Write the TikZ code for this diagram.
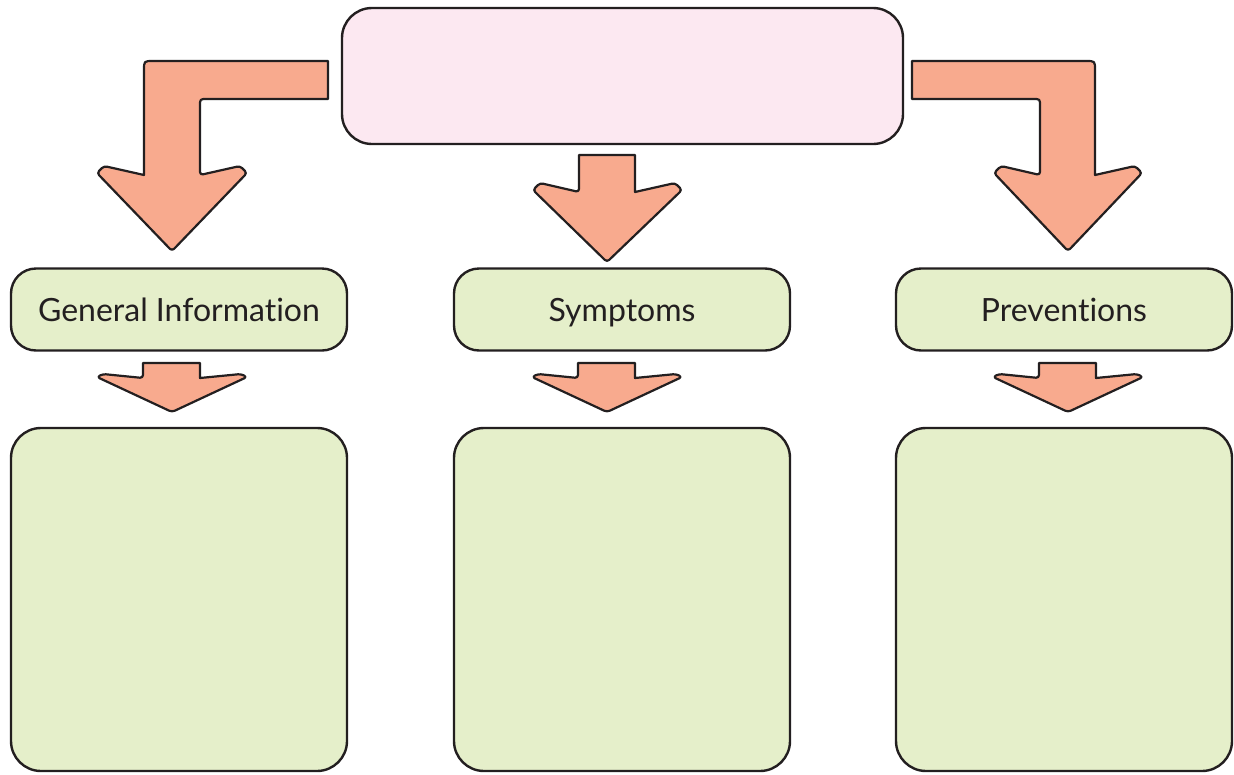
\documentclass[tikz,border=0pt]{standalone}
\usepackage{fontspec}
\setmainfont{Lato}[Ligatures=NoCommon]
\definecolor{pinkfill}{HTML}{FCE8F1}
\definecolor{greenfill}{HTML}{E5EFCA}
\definecolor{arrowfill}{HTML}{F8AA8E}
\definecolor{inkc}{HTML}{231F20}
\tikzset{
  box/.style={draw=inkc, line width=2.4pt, inner sep=0pt, rounded corners=#1},
  labelbox/.style={box=25pt, fill=greenfill, minimum width=336pt, minimum height=82pt,
     font=\fontsize{32}{36}\selectfont, text=inkc, text height=23pt, text depth=0pt},
  bigbox/.style={box=30pt, fill=greenfill, minimum width=336pt, minimum height=343pt},
  topbox/.style={box=30pt, fill=pinkfill, minimum width=561pt, minimum height=136pt},
  blockarrow/.style={draw=inkc, fill=arrowfill, line width=2.2pt, line join=round}
}
\begin{document}
\begin{tikzpicture}[x=1pt,y=-1pt]
\useasboundingbox (0,0) rectangle (1234,774);
% boxes
\node[topbox] (top) at (622.5,76) {};
\node[labelbox] (gen) at (179,309.5) {General Information};
\node[labelbox] (sym) at (622,309.5) {Symptoms};
\node[labelbox] (pre) at (1064,309.5) {Preventions};
\node[bigbox] (b1) at (179,599.5) {};
\node[bigbox] (b2) at (622,599.5) {};
\node[bigbox] (b3) at (1064,599.5) {};
% left bent arrow
\draw[blockarrow] (328,61) -- (153,61) .. controls (144,61) .. (144,70) -- (144,175)
  [rounded corners=3pt] -- (104,166) -- (97,173) -- (172,251) -- (247,173) -- (240,166) -- (200,175) [sharp corners]
  -- (200,106) .. controls (200,99) .. (207,99) -- (328,99) -- cycle;
% right bent arrow
\draw[blockarrow] (912,61) -- (1086,61) .. controls (1095,61) .. (1095,70) -- (1095,175)
  [rounded corners=3pt] -- (1135,166) -- (1142,173) -- (1068,251) -- (994,173) -- (1001,166) -- (1040,175) [sharp corners]
  -- (1040,106) .. controls (1040,99) .. (1033,99) -- (912,99) -- cycle;
% centre arrow
\draw[blockarrow] (635,155) -- (635,192)
  [rounded corners=3pt] -- (675,183) -- (682,190) -- (607,262) -- (533,190) -- (540,183) -- (579,192) [sharp corners]
  -- (579,155) -- cycle;
% small arrows
\foreach \c in {172, 607, 1068}{
  \draw[blockarrow] ({\c+28},363) -- ({\c+28},378)
    [rounded corners=3pt] -- ({\c+69},374) -- ({\c+75},377) -- (\c,412) -- ({\c-75},377) -- ({\c-69},374) -- ({\c-29},378) [sharp corners]
    -- ({\c-29},363) -- cycle;
}
\end{tikzpicture}
\end{document}
